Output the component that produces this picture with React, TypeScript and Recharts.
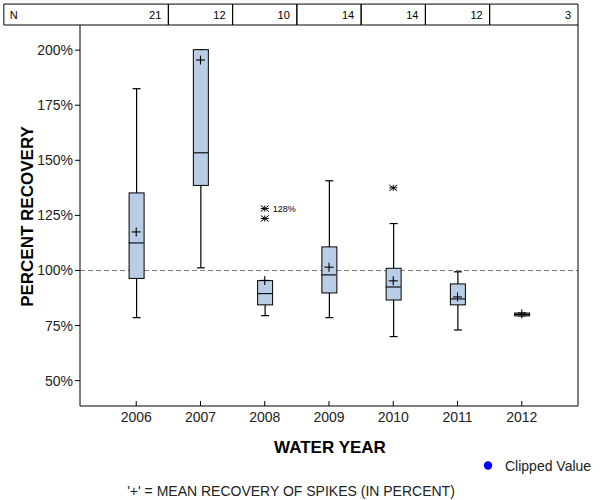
import { Bar, ComposedChart, ReferenceArea, ReferenceLine, Scatter, XAxis, YAxis } from "recharts";

const YEARS = [2006, 2007, 2008, 2009, 2010, 2011, 2012];
const N_COUNTS = [21, 12, 10, 14, 14, 12, 3];
const WHISKER_LOW = [78.6, 101.2, 79.5, 78.6, 70.0, 73.0, 79.4];
const Q1 = [96.4, 138.6, 84.4, 89.8, 86.6, 84.4, 79.4];
const MEDIAN = [112.5, 153.4, 89.5, 98.0, 92.5, 87.1, 80.0];
const Q3 = [135.2, 200.2, 95.4, 110.7, 101.0, 93.9, 80.7];
const WHISKER_HIGH = [182.5, 200.2, 95.4, 140.7, 121.3, 99.4, 80.7];
const MEAN = [117.5, 195.5, 95.5, 101.5, 95.3, 88.0, 80.3];

const OUTLIER_YEARS = [2008, 2008, 2010];
const OUTLIER_VALUES = [128.1, 123.6, 137.5];
const OUTLIER_NOTES = ["128%", "", ""];

const Y_TICKS = [50, 75, 100, 125, 150, 175, 200];
const X_DOMAIN: [number, number] = [2005.125, 2012.875];
const Y_DOMAIN: [number, number] = [38.5, 211.4];
// N table sits just above the plot, same x scale
const TABLE_TOP = 220.9;
const TABLE_LEFT = 2003.94;

const FONT = "'Liberation Sans', Arial, sans-serif";
const BOX_FILL = "#b9cde5";

const rows = YEARS.map((year, i) => ({
    year,
    whisker: [WHISKER_LOW[i], WHISKER_HIGH[i]],
    box: [Q1[i], Q3[i]],
    median: MEDIAN[i],
    mean: MEAN[i],
}));

const outliers = OUTLIER_YEARS.map((year, i) => ({
    year,
    value: OUTLIER_VALUES[i],
    note: OUTLIER_NOTES[i],
}));

const cells = YEARS.map((year, i) => ({
    x1: i === 0 ? TABLE_LEFT : year - 0.5,
    x2: i === YEARS.length - 1 ? X_DOMAIN[1] : year + 0.5,
    count: N_COUNTS[i],
    first: i === 0,
}));

function WhiskerShape(props: any) {
    const { x, y, width, height } = props;
    const cx = x + width / 2;
    const top = Math.min(y, y + height);
    const bot = Math.max(y, y + height);
    return (
        <g stroke="#000" strokeWidth={1.2}>
            <line x1={cx} x2={cx} y1={top} y2={bot} />
            <line x1={cx - 4} x2={cx + 4} y1={top} y2={top} />
            <line x1={cx - 4} x2={cx + 4} y1={bot} y2={bot} />
        </g>
    );
}

function BoxShape(props: any) {
    const { x, y, width, height } = props;
    const top = Math.min(y, y + height);
    const h = Math.max(Math.abs(height), 1);
    return <rect x={x} y={top} width={width} height={h} fill={BOX_FILL} stroke="#000" strokeWidth={1} />;
}

function MedianShape(props: any) {
    const { cx, cy } = props;
    return <line x1={cx - 7.5} x2={cx + 7.5} y1={cy} y2={cy} stroke="#000" strokeWidth={1.1} />;
}

function MeanShape(props: any) {
    const { cx, cy } = props;
    return (
        <g stroke="#000" strokeWidth={1.1}>
            <line x1={cx - 4.5} x2={cx + 4.5} y1={cy} y2={cy} />
            <line x1={cx} x2={cx} y1={cy - 4.5} y2={cy + 4.5} />
        </g>
    );
}

function OutlierShape(props: any) {
    const { cx, cy, payload } = props;
    return (
        <g>
            <g stroke="#000" strokeWidth={1}>
                <line x1={cx - 4} x2={cx + 4} y1={cy - 3} y2={cy + 3} />
                <line x1={cx - 4} x2={cx + 4} y1={cy + 3} y2={cy - 3} />
                <line x1={cx - 4} x2={cx + 4} y1={cy} y2={cy} />
                <line x1={cx} x2={cx} y1={cy - 3} y2={cy + 3} />
            </g>
            {payload.note ? (
                <text x={cx + 8} y={cy + 3} fontSize={9} fontFamily={FONT} fill="#000">
                    {payload.note}
                </text>
            ) : null}
        </g>
    );
}

function XTick(props: any) {
    const { x, y, payload } = props;
    return (
        <g>
            <line x1={x} x2={x} y1={y} y2={y - 5} stroke="#000" />
            <text x={x} y={y + 16} textAnchor="middle" fontSize={14} fontFamily={FONT} fill="#222">
                {payload.value}
            </text>
        </g>
    );
}

function cellLabel(cell: { count: number; first: boolean }) {
    return (props: any) => {
        const { x, y, width } = props.viewBox;
        return (
            <g fontSize={11} fontFamily={FONT} fill="#000">
                {cell.first ? <text x={x + 6} y={y + 15}>N</text> : null}
                <text x={x + width - 7} y={y + 15} textAnchor="end">{cell.count}</text>
            </g>
        );
    };
}

export default function App() {
    return (
        <div style={{ position: "absolute", left: 0, top: 0, width: 600, height: 500, background: "#fff", fontFamily: FONT }}>
            <ComposedChart width={600} height={500} data={rows} margin={{ top: 25, right: 22, bottom: 64, left: 0 }}>
                <XAxis xAxisId="box" dataKey="year" type="number" domain={X_DOMAIN} allowDataOverflow hide height={0} />
                <XAxis
                    xAxisId="main"
                    dataKey="year"
                    type="number"
                    domain={X_DOMAIN}
                    allowDataOverflow
                    ticks={YEARS}
                    interval={0}
                    height={30}
                    stroke="#000"
                    tickLine={false}
                    tickSize={0}
                    tickMargin={0}
                    tick={<XTick />}
                    label={(p: any) => {
                        const vb = p.viewBox;
                        return (
                            <text x={vb.x + vb.width / 2 + 1} y={vb.y + 47} textAnchor="middle" fontSize={17} fontWeight="bold" fontFamily={FONT} fill="#000">
                                WATER YEAR
                            </text>
                        );
                    }}
                />
                <YAxis
                    type="number"
                    domain={Y_DOMAIN}
                    allowDataOverflow
                    ticks={Y_TICKS}
                    interval={0}
                    width={80}
                    stroke="#000"
                    tickSize={5}
                    tickMargin={2}
                    tick={{ fill: "#222", fontSize: 14, fontFamily: FONT }}
                    tickFormatter={(v: number) => `${v}%`}
                    label={(p: any) => {
                        const vb = p.viewBox;
                        const cy = vb.y + vb.height / 2 + 1;
                        return (
                            <text x={33} y={cy} transform={`rotate(-90, 33, ${cy})`} textAnchor="middle" fontSize={17} fontWeight="bold" fontFamily={FONT} fill="#000">
                                PERCENT RECOVERY
                            </text>
                        );
                    }}
                />
                <ReferenceLine xAxisId="main" y={100} stroke="#808080" strokeDasharray="5 3" zIndex={-50} />
                <ReferenceLine xAxisId="main" x={X_DOMAIN[1]} stroke="#000" ifOverflow="visible" />
                {cells.map((c) => (
                    <ReferenceArea
                        key={c.x1}
                        xAxisId="main"
                        x1={c.x1}
                        x2={c.x2}
                        y1={Y_DOMAIN[1]}
                        y2={TABLE_TOP}
                        ifOverflow="visible"
                        fill="none"
                        fillOpacity={0}
                        stroke="#000"
                        strokeWidth={1}
                        label={cellLabel(c)}
                    />
                ))}
                <Bar xAxisId="main" dataKey="whisker" barSize={15} shape={<WhiskerShape />} isAnimationActive={false} />
                <Bar xAxisId="box" dataKey="box" barSize={15} shape={<BoxShape />} isAnimationActive={false} />
                <Scatter xAxisId="main" dataKey="median" shape={<MedianShape />} isAnimationActive={false} />
                <Scatter xAxisId="main" dataKey="mean" shape={<MeanShape />} isAnimationActive={false} />
                <Scatter xAxisId="main" data={outliers} dataKey="value" shape={<OutlierShape />} isAnimationActive={false} />
            </ComposedChart>
            <svg width={600} height={500} style={{ position: "absolute", left: 0, top: 0, pointerEvents: "none" }}>
                <circle cx={488} cy={465.5} r={4.2} fill="#0000ff" />
                <text x={505} y={471} fontSize={14} fontFamily={FONT} fill="#222">Clipped Value</text>
                <text x={291} y={496} textAnchor="middle" fontSize={14} fontFamily={FONT} fill="#222">
                    '+' = MEAN RECOVERY OF SPIKES (IN PERCENT)
                </text>
            </svg>
        </div>
    );
}
